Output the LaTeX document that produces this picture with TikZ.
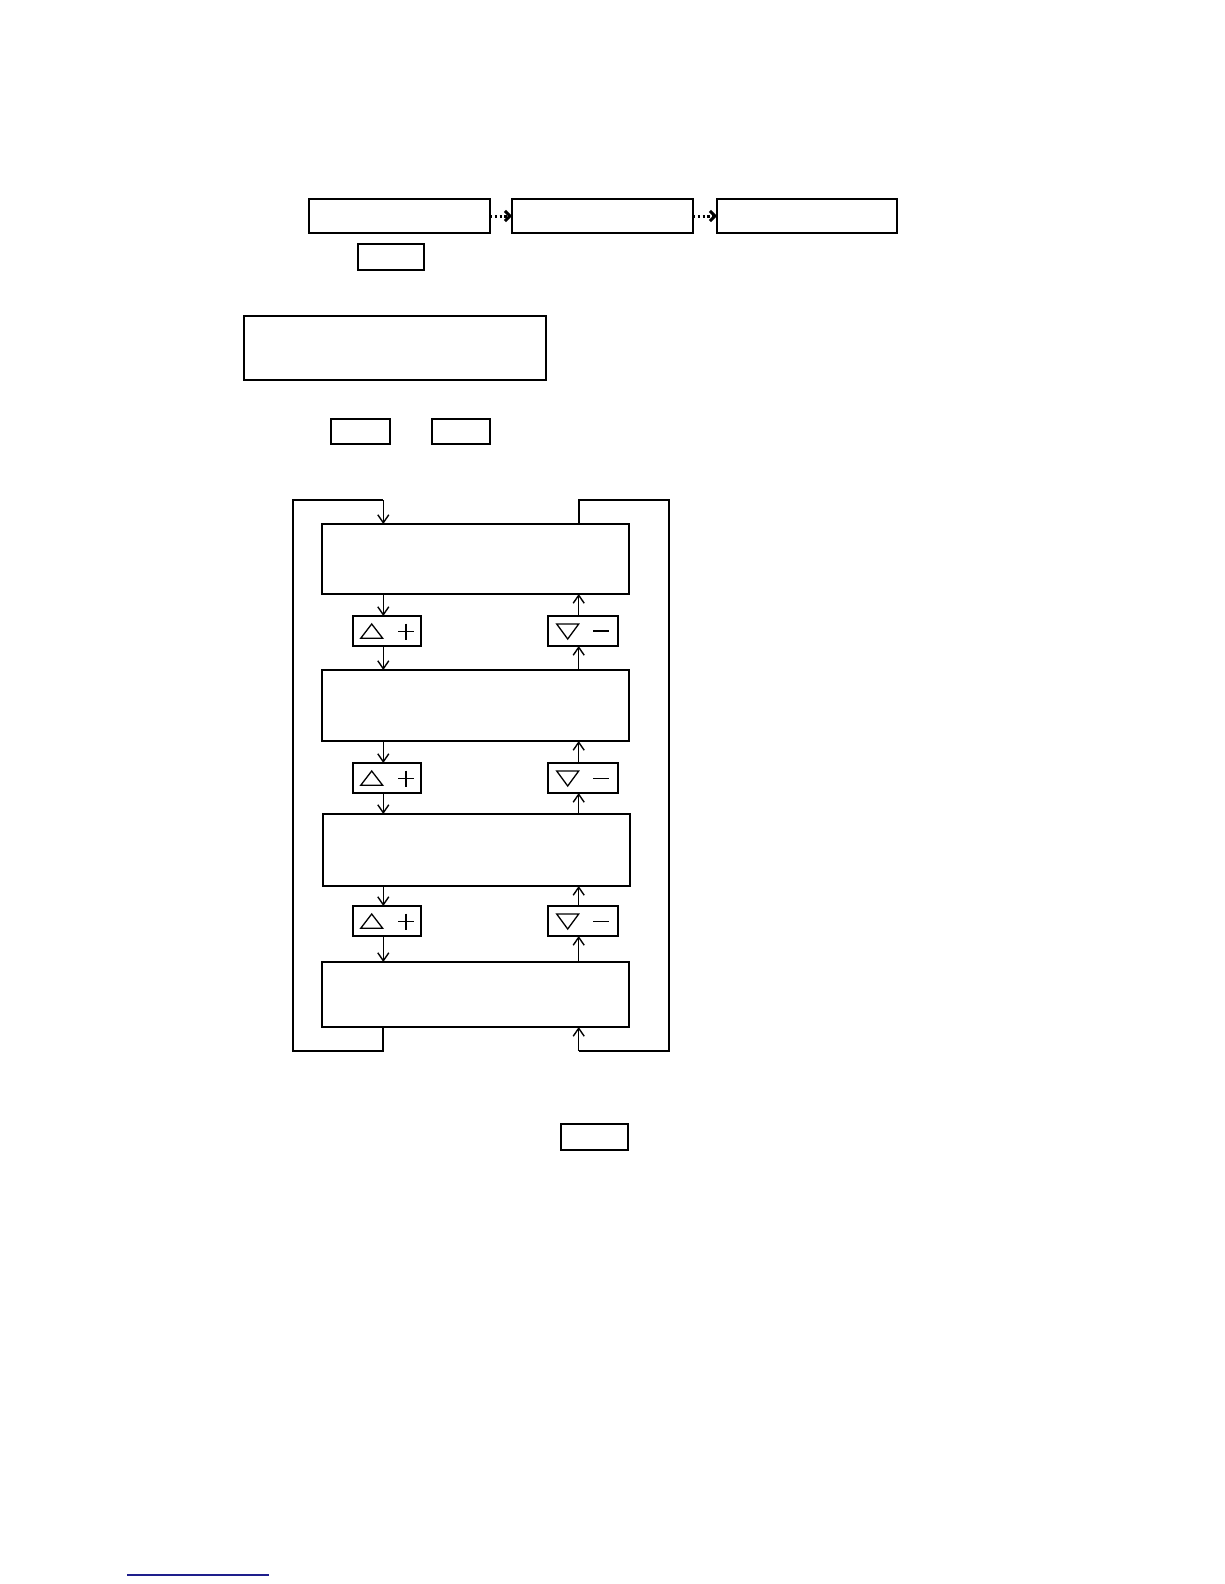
\documentclass[tikz,border=0pt]{standalone}
\usetikzlibrary{arrows.meta}
\definecolor{linkblue}{RGB}{30,30,140}
\begin{document}
\begin{tikzpicture}[x=1pt,y=-1pt,
  rbox/.style={draw, inner sep=0pt, outer sep=0pt, line width=1.3pt},
  topbox/.style={rbox, line width=2.4pt, minimum width=181pt, minimum height=34pt},
  smallbox/.style={rbox, line width=1.1pt},
  flowbox/.style={rbox, line width=1.5pt, minimum width=307pt},
  keybox/.style={rbox, line width=1.2pt, minimum height=30pt},
  arr/.style={line width=1.2pt, -{Straight Barb[length=8pt,width=11pt,line width=1.4pt]}},
  loopline/.style={line width=1.8pt},
  dotarr/.style={line width=3pt, dash pattern=on 2.4pt off 2.4pt, -{Straight Barb[length=5pt,width=10pt,line width=3pt]}},
  glyph/.style={line width=1.3pt}
]
\useasboundingbox (0,0) rectangle (1224,1584);

% top row
\node[topbox] (t1) at (399.5,216) {};
\node[topbox] (t2) at (602.5,216) {};
\node[topbox, minimum width=180pt] (t3) at (807,216) {};
\draw[dotarr] (t1.east) -- (t2.west);
\draw[dotarr] (t2.east) -- (t3.west);
\node[smallbox, minimum width=66pt, minimum height=26pt] (s1) at (391,257) {};

% large box
\node[rbox, minimum width=302pt, minimum height=64pt] (big) at (395,348) {};
\draw[line width=2.2pt] (big.north west) -- (big.north east);

\node[smallbox, minimum width=59pt, minimum height=25pt] (k1) at (360.5,431.5) {};
\node[smallbox, minimum width=58pt, minimum height=25pt] (k2) at (461,431.5) {};

% flow boxes
\node[flowbox, minimum height=70pt] (A) at (475.5,559) {};
\node[flowbox, minimum height=71pt] (B) at (475.5,705.5) {};
\node[flowbox, minimum height=72pt] (C) at (476.5,850) {};
\node[flowbox, minimum height=65pt] (D) at (475.5,994.5) {};

% key buttons
\node[keybox, minimum width=68pt] (p1) at (387,631) {};
\node[keybox, minimum width=68pt] (p2) at (387,778) {};
\node[keybox, minimum width=68pt] (p3) at (387,921) {};
\node[keybox, minimum width=70pt] (m1) at (583,631) {};
\node[keybox, minimum width=70pt] (m2) at (583,778) {};
\node[keybox, minimum width=70pt] (m3) at (583,921) {};

% glyphs
\foreach \p in {p1,p2,p3}{
  \draw[glyph] ([shift={(-26.3,7.3)}]\p.center) -- ([shift={(-15.3,-7)}]\p.center) -- ([shift={(-4.3,7.3)}]\p.center) -- cycle;
  \draw[glyph] ([shift={(11,0.5)}]\p.center) -- ([shift={(27,0.5)}]\p.center);
  \draw[glyph] ([shift={(19,-7.5)}]\p.center) -- ([shift={(19,8.5)}]\p.center);
}
\foreach \m in {m1,m2,m3}{
  \draw[glyph] ([shift={(-26.3,-7)}]\m.center) -- ([shift={(-15.3,8)}]\m.center) -- ([shift={(-4.3,-7)}]\m.center) -- cycle;
}
\draw[line width=1.6pt] ([shift={(10.3,0)}]m1.center) -- ([shift={(26.3,0)}]m1.center);
\draw[line width=1pt] ([shift={(10.3,0)}]m2.center) -- ([shift={(26.3,0)}]m2.center);
\draw[line width=1pt] ([shift={(10.3,0)}]m3.center) -- ([shift={(26.3,0)}]m3.center);

% arrow columns
\coordinate (xl) at (383.3,0);
\coordinate (xr) at (578.7,0);
\draw[arr] (A.south -| xl) -- (p1.north -| xl);
\draw[arr] (p1.south -| xl) -- (B.north -| xl);
\draw[arr] (B.south -| xl) -- (p2.north -| xl);
\draw[arr] (p2.south -| xl) -- (C.north -| xl);
\draw[arr] (C.south -| xl) -- (p3.north -| xl);
\draw[arr] (p3.south -| xl) -- (D.north -| xl);
\draw[arr] (m1.north -| xr) -- (A.south -| xr);
\draw[arr] (B.north -| xr) -- (m1.south -| xr);
\draw[arr, line width=1.5pt] (m2.north -| xr) -- (B.south -| xr);
\draw[arr] (C.north -| xr) -- (m2.south -| xr);
\draw[arr, line width=1.5pt] (m3.north -| xr) -- (C.south -| xr);
\draw[arr] (D.north -| xr) -- (m3.south -| xr);

% outer loops
\coordinate (lb) at (293,1051);
\coordinate (lt) at (293,500);
\coordinate (rt) at (669,500);
\coordinate (rb) at (669,1051);
\draw[loopline] (D.south -| xl) |- (lb) -- (lt) -- (lt -| xl);
\draw[arr] (lt -| xl) -- (A.north -| xl);
\draw[loopline] (A.north -| xr) |- (rt) -- (rb) -- (rb -| xr);
\draw[arr] (rb -| xr) -- (D.south -| xr);

% bottom key
\node[smallbox, minimum width=67pt, minimum height=26pt] (s2) at (594.5,1137) {};

% link underline
\draw[linkblue, line width=1.3pt] (127,1575) -- (269,1575);
\end{tikzpicture}
\end{document}
